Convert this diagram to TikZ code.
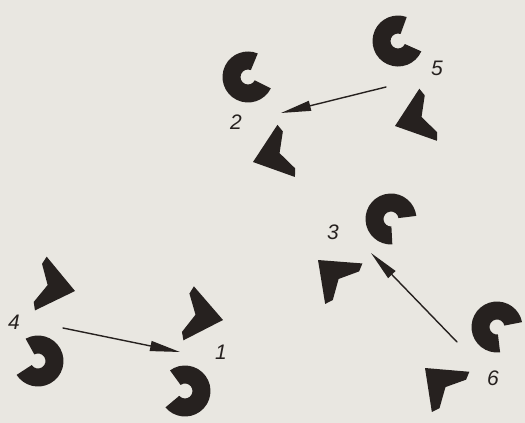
\documentclass[tikz,border=0pt]{standalone}
\usepackage{fontspec}
\setsansfont{Liberation Sans}
\usetikzlibrary{arrows.meta}
\definecolor{paper}{RGB}{233,231,225}
\definecolor{ink}{RGB}{38,33,31}
\begin{document}
\begin{tikzpicture}[x=1pt,y=-1pt,line cap=round,line join=round,
  cring/.pic={\fill[ink] (47:25.5) arc[start angle=47,end angle=313,radius=25.5]
    -- (313:7.5) arc[start angle=313,end angle=47,radius=7.5] -- cycle;},
  dart/.pic={\fill[ink] (0,0) -- (35,27.5) -- (38,19.5) -- (28,0)
    -- (38,-19.5) -- (35,-27.5) -- cycle;},
  num/.style={font=\sffamily\itshape\fontsize{21}{21}\selectfont,text=ink,inner sep=0pt},
  mv/.style={ink,line width=1.4pt,-{Triangle[length=30pt,width=10pt]}}]
  \fill[paper] (0,0) rectangle (525,423);
  \useasboundingbox (0,0) rectangle (525,423);
  % pair 1 and 4
  \pic[rotate=173] (c1) at (185,391) {cring};
  \pic[rotate=169] (d1) at (223,320) {dart};
  \pic[rotate=166] (c4) at (38,361) {cring};
  \pic[rotate=167.7] (d4) at (75,291) {dart};
  % pair 2 and 5
  \pic[rotate=20.5] (c2) at (248,77) {cring};
  \pic[rotate=18.5] (d2) at (253,162) {dart};
  \pic[rotate=23] (c5) at (398,41) {cring};
  \pic[rotate=18.7] (d5) at (395,126) {dart};
  % pair 3 and 6
  \pic[rotate=-40] (c3) at (391,219) {cring};
  \pic[rotate=-42.6] (d3) at (318,260) {dart};
  \pic[rotate=-36] (c6) at (497,327) {cring};
  \pic[rotate=-43] (d6) at (425,368) {dart};
  \node[num] (n1) at (221,352) {1};
  \node[num] (n2) at (236,122) {2};
  \node[num] (n3) at (333,232) {3};
  \node[num] (n4) at (14,322) {4};
  \node[num] (n5) at (437,68) {5};
  \node[num] (n6) at (493,378) {6};
  \coordinate (s4) at (63,328);
  \coordinate (e1) at (180,352);
  \coordinate (s5) at (386,87);
  \coordinate (e2) at (281,113);
  \coordinate (s6) at (457,342);
  \coordinate (e3) at (371,253);
  \draw[mv] (s4) -- (e1);
  \draw[mv] (s5) -- (e2);
  \draw[mv] (s6) -- (e3);
\end{tikzpicture}
\end{document}
